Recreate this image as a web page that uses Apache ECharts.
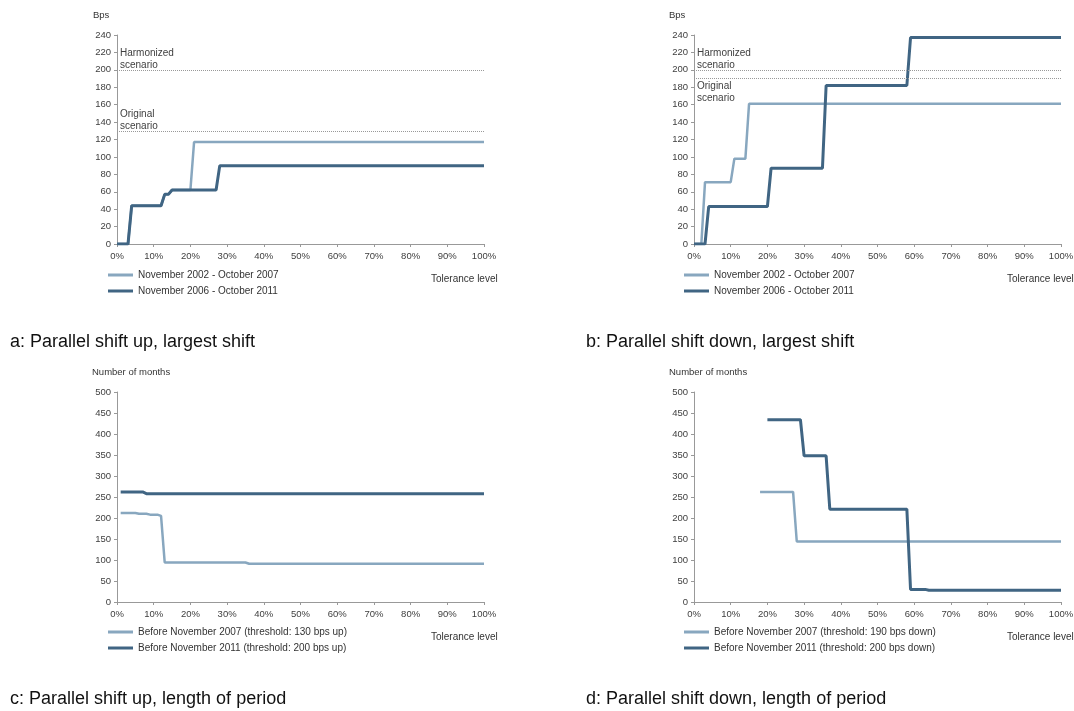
<!DOCTYPE html>
<html>
<head>
<meta charset="utf-8">
<script src="https://cdn.jsdelivr.net/npm/echarts@6/dist/echarts.min.js"></script>
<style>
  html, body { margin: 0; padding: 0; background: #fff; }
  #chart { width: 1074px; height: 711px; }
</style>
</head>
<body>
<div id="chart"></div>
<script>
// tolerance level (%) vs value, breakpoints
const aLight = [[0, 0], [3, 0], [4, 44], [12, 44], [13, 57], [14, 57], [15, 62], [20, 62], [21, 117], [100, 117]]
const aDark = [[0, 0], [3, 0], [4, 44], [12, 44], [13, 57], [14, 57], [15, 62], [27, 62], [28, 90], [100, 90]]
const bLight = [[0, 0], [2, 0], [3, 71], [10, 71], [11, 98], [14, 98], [15, 161], [100, 161]]
const bDark = [[0, 0], [3, 0], [4, 43], [20, 43], [21, 87], [35, 87], [36, 182], [58, 182], [59, 237], [100, 237]]
const cLight = [[1, 212], [5, 212], [6, 210], [8, 210], [9, 208], [11, 208], [12, 205], [13, 94], [35, 94], [36, 91], [100, 91]]
const cDark = [[1, 262], [7, 262], [8, 258], [100, 258]]
const dLight = [[18, 262], [27, 262], [28, 144], [100, 144]]
const dDark = [[20, 434], [29, 434], [30, 348], [36, 348], [37, 221], [58, 221], [59, 30], [63, 30], [64, 28], [100, 28]]

const namesTop = ['November 2002 - October 2007', 'November 2006 - October 2011']
const namesC = ['Before November 2007 (threshold: 130 bps up)', 'Before November 2011 (threshold: 200 bps up)']
const namesD = ['Before November 2007 (threshold: 190 bps down)', 'Before November 2011 (threshold: 200 bps down)']
const captions = ['a: Parallel shift up, largest shift', 'b: Parallel shift down, largest shift',
  'c: Parallel shift up, length of period', 'd: Parallel shift down, length of period']
const refA = [200, 130]   // harmonized, original
const refB = [200, 190]

const LIGHT = '#88a7bf'
const DARK = '#406583'
const FONT = '"Liberation Sans", Arial, sans-serif'

const grids = [
  { left: 117, top: 35, width: 367, height: 209 },
  { left: 694, top: 35, width: 367, height: 209 },
  { left: 117, top: 392, width: 367, height: 210 },
  { left: 694, top: 392, width: 367, height: 210 }
]

function xAxis(i) {
  return {
    type: 'value', gridIndex: i, min: 0, max: 100, interval: 10,
    axisLine: { lineStyle: { color: '#999' } },
    axisTick: { show: true, length: 3, lineStyle: { color: '#999' } },
    splitLine: { show: false },
    axisLabel: { formatter: '{value}%', fontSize: 9.5, color: '#404040', margin: 7, fontFamily: FONT }
  }
}
function yAxis(i, max, interval) {
  return {
    type: 'value', gridIndex: i, min: 0, max: max, interval: interval,
    axisLine: { show: true, lineStyle: { color: '#999' } },
    axisTick: { show: true, length: 3, lineStyle: { color: '#999' } },
    splitLine: { show: false },
    axisLabel: { fontSize: 9.5, color: '#404040', margin: 6, fontFamily: FONT }
  }
}
function refLines(vals, secondBelow) {
  const lbl = { color: '#404040', fontSize: 10, fontFamily: FONT, lineHeight: 12 }
  return {
    silent: true, symbol: 'none',
    lineStyle: { type: 'dotted', color: '#999', width: 1 },
    data: [
      { yAxis: vals[0], label: Object.assign({}, lbl, { formatter: 'Harmonized\nscenario', position: 'insideStartTop', distance: [3, -1] }) },
      { yAxis: vals[1], label: Object.assign({}, lbl, { formatter: 'Original\nscenario',
        position: secondBelow ? 'insideStartBottom' : 'insideStartTop', distance: secondBelow ? [3, 2] : [3, -1] }) }
    ]
  }
}
function line(name, i, data, color, width, mark) {
  const s = {
    name: name, type: 'line', xAxisIndex: i, yAxisIndex: i, data: data,
    symbol: 'none', showSymbol: false, animation: false,
    lineStyle: { color: color, width: width }, itemStyle: { color: color }
  }
  if (mark) s.markLine = mark
  return s
}
function legend(i, names, left, top) {
  return {
    orient: 'vertical', left: left, top: top, itemGap: 6, itemWidth: 25, itemHeight: 3,
    icon: 'rect', padding: 0, selectedMode: false, data: names,
    textStyle: { fontSize: 10, color: '#333', fontFamily: FONT }
  }
}
function label(text, left, top, size, color) {
  return {
    text: text, left: left, top: top, padding: 0,
    textStyle: { fontSize: size, fontWeight: 'normal', color: color, fontFamily: FONT }
  }
}

const chart = echarts.init(document.getElementById('chart'))
chart.setOption({
  animation: false,
  grid: grids.map(g => Object.assign({ outerBoundsMode: 'none', containLabel: false }, g)),
  xAxis: [xAxis(0), xAxis(1), xAxis(2), xAxis(3)],
  yAxis: [yAxis(0, 240, 20), yAxis(1, 240, 20), yAxis(2, 500, 50), yAxis(3, 500, 50)],
  legend: [
    legend(0, namesTop, 108, 270),
    legend(1, namesTop, 684, 270),
    legend(2, namesC, 108, 627),
    legend(3, namesD, 684, 627)
  ],
  title: [
    label('Bps', 93, 10, 9.5, '#333'),
    label('Bps', 669, 10, 9.5, '#333'),
    label('Number of months', 92, 367, 9.5, '#333'),
    label('Number of months', 669, 367, 9.5, '#333'),
    label('Tolerance level', 431, 274, 10, '#333'),
    label('Tolerance level', 1007, 274, 10, '#333'),
    label('Tolerance level', 431, 632, 10, '#333'),
    label('Tolerance level', 1007, 632, 10, '#333'),
    label(captions[0], 10, 333, 18, '#111'),
    label(captions[1], 586, 333, 18, '#111'),
    label(captions[2], 10, 690, 18, '#111'),
    label(captions[3], 586, 690, 18, '#111')
  ],
  series: [
    line(namesTop[0], 0, aLight, LIGHT, 2.5, refLines(refA, false)),
    line(namesTop[1], 0, aDark, DARK, 3),
    line(namesTop[0], 1, bLight, LIGHT, 2.5, refLines(refB, true)),
    line(namesTop[1], 1, bDark, DARK, 3),
    line(namesC[0], 2, cLight, LIGHT, 2.5),
    line(namesC[1], 2, cDark, DARK, 3),
    line(namesD[0], 3, dLight, LIGHT, 2.5),
    line(namesD[1], 3, dDark, DARK, 3)
  ]
})
</script>
</body>
</html>
